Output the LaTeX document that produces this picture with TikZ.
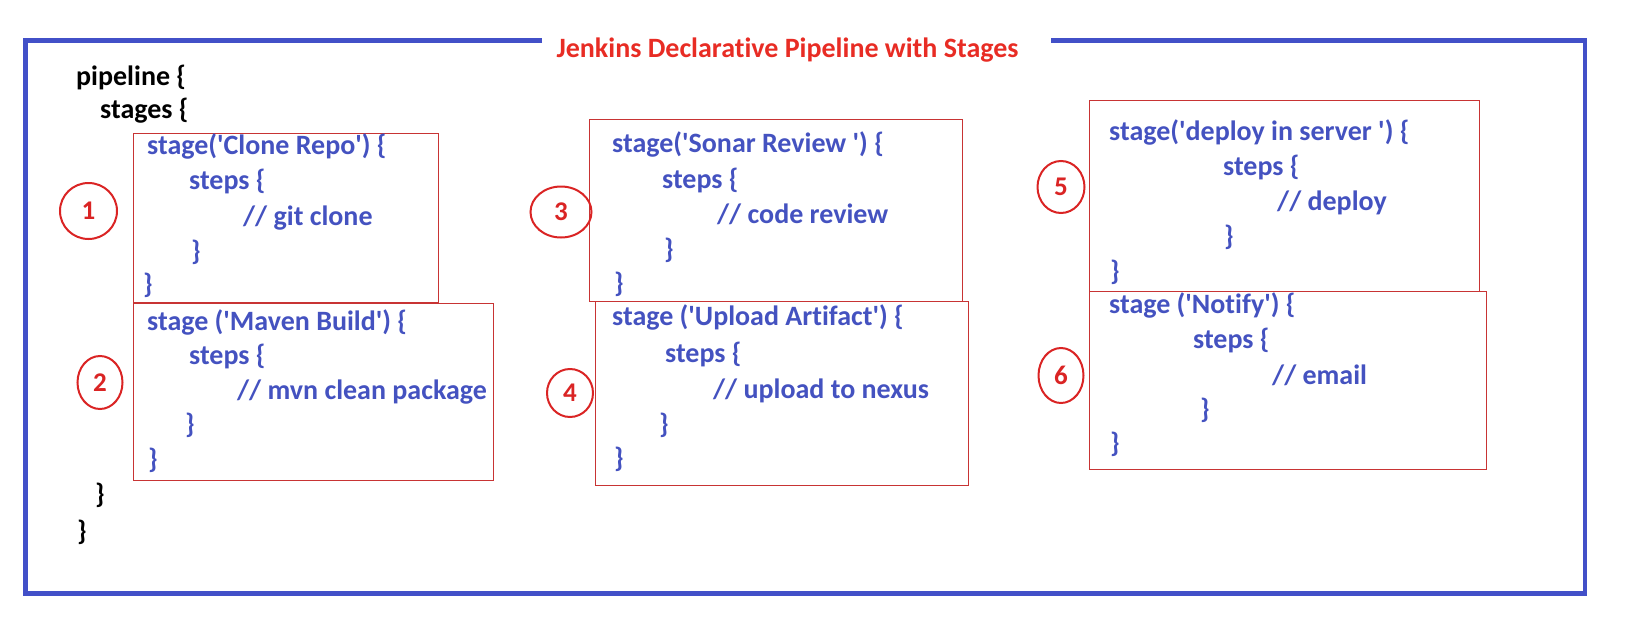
\documentclass[tikz,border=0pt]{standalone}
\usepackage{fontspec}
\setmainfont{Carlito}[Ligatures=NoCommon]
\usepackage{tikz}
\usetikzlibrary{shapes.geometric}

\definecolor{codeblue}{RGB}{68,82,192}
\definecolor{frameblue}{RGB}{66,80,200}
\definecolor{boxred}{RGB}{200,52,52}
\definecolor{markred}{RGB}{218,36,36}
\definecolor{titlered}{RGB}{232,44,36}

\newcommand{\sqt}{\textquotesingle}

\begin{document}
\begin{tikzpicture}[
    x=1pt, y=-1pt,
    % styles
    code/.style={anchor=base west, inner sep=0pt, text=codeblue,
      font=\fontsize{28}{34}\selectfont\bfseries},
    plain/.style={code, text=black},
    stagebox/.style={draw=boxred, line width=1pt},
    marker/.style={ellipse, draw=markred, line width=2pt, inner sep=0pt,
      text=markred, font=\fontsize{27}{32}\selectfont\bfseries},
    outerframe/.style={frameblue, line width=4.5pt, line join=miter}]

    \useasboundingbox (0,0) rectangle (1626,635);

    % title and frame
    \node [anchor=base, inner sep=0pt, text=titlered,
      font=\fontsize{28}{34}\selectfont\bfseries] (title) at (787.5, 57)
      {Jenkins Declarative Pipeline with Stages};
    \coordinate (gapleft) at (542, 40.5);
    \coordinate (gapright) at (1051, 40.5);
    \draw [outerframe] (gapleft) -- (25.5, 40.5) -- (25.5, 593.5)
    -- (1585, 593.5) -- (1585, 40.5) -- (gapright);

    % pipeline / stages
    \node [plain] (pipe) at (76, 85) {pipeline \{};
    \node [plain] (stages) at (100, 118) {stages \{};
    \node [plain] (stagesend) at (95, 503) {\}};
    \node [plain] (pipeend) at (77, 540) {\}};

    % stage boxes
    \draw [stagebox] (133, 133) rectangle (438, 302);
    \draw [stagebox] (133, 303) rectangle (493, 480);
    \draw [stagebox] (589, 119) rectangle (962, 301);
    \draw [stagebox] (595, 301) rectangle (968, 485);
    \draw [stagebox] (1089, 100) rectangle (1479, 291);
    \draw [stagebox] (1089, 291) rectangle (1486, 469);

    % stage 1
    \foreach \x/\y/\txt [count=\i] in {
      147/154/{stage(\sqt Clone Repo\sqt) \{},
      189/189/{steps \{},
      243/225/{// git clone},
      191/260/{\}},
      143/293/{\}}
    } {
      \node [code] (a\i) at (\x, \y) {\txt};
    }
    % stage 2
    \foreach \x/\y/\txt [count=\i] in {
      147/330/{stage (\sqt Maven Build\sqt) \{},
      189/364/{steps \{},
      237/399/{// mvn clean package},
      185/433/{\}},
      148/468/{\}}
    } {
      \node [code] (b\i) at (\x, \y) {\txt};
    }
    % stage 3
    \foreach \x/\y/\txt [count=\i] in {
      612/152/{stage(\sqt Sonar Review \sqt) \{},
      662/188/{steps \{},
      717/223/{// code review},
      664/258/{\}},
      614/292/{\}}
    } {
      \node [code] (c\i) at (\x, \y) {\txt};
    }
    % stage 4
    \foreach \x/\y/\txt [count=\i] in {
      612/325/{stage (\sqt Upload Artifact\sqt) \{},
      665/362/{steps \{},
      713/398/{// upload to nexus},
      659/433/{\}},
      614/467/{\}}
    } {
      \node [code] (d\i) at (\x, \y) {\txt};
    }
    % stage 5
    \foreach \x/\y/\txt [count=\i] in {
      1109/140/{stage(\sqt deploy in server \sqt) \{},
      1223/175/{steps \{},
      1277/210/{// deploy},
      1224/245/{\}},
      1110/280/{\}}
    } {
      \node [code] (e\i) at (\x, \y) {\txt};
    }
    % stage 6
    \foreach \x/\y/\txt [count=\i] in {
      1109/313/{stage (\sqt Notify\sqt) \{},
      1193/348/{steps \{},
      1272/384/{// email},
      1200/418/{\}},
      1110/452/{\}}
    } {
      \node [code] (f\i) at (\x, \y) {\txt};
    }

    % numbered markers
    \foreach \n/\x/\y/\w/\h in {
      1/88.5/211/57/56, 2/100/382.5/45/53, 3/561/212/61/51,
      4/570/393/46/48, 5/1061/187/47/52, 6/1061/375.5/45/55
    } {
      \node [marker, minimum width=\w, minimum height=\h] (m\n) at (\x, \y) {\n};
    }

\end{tikzpicture}
\end{document}
